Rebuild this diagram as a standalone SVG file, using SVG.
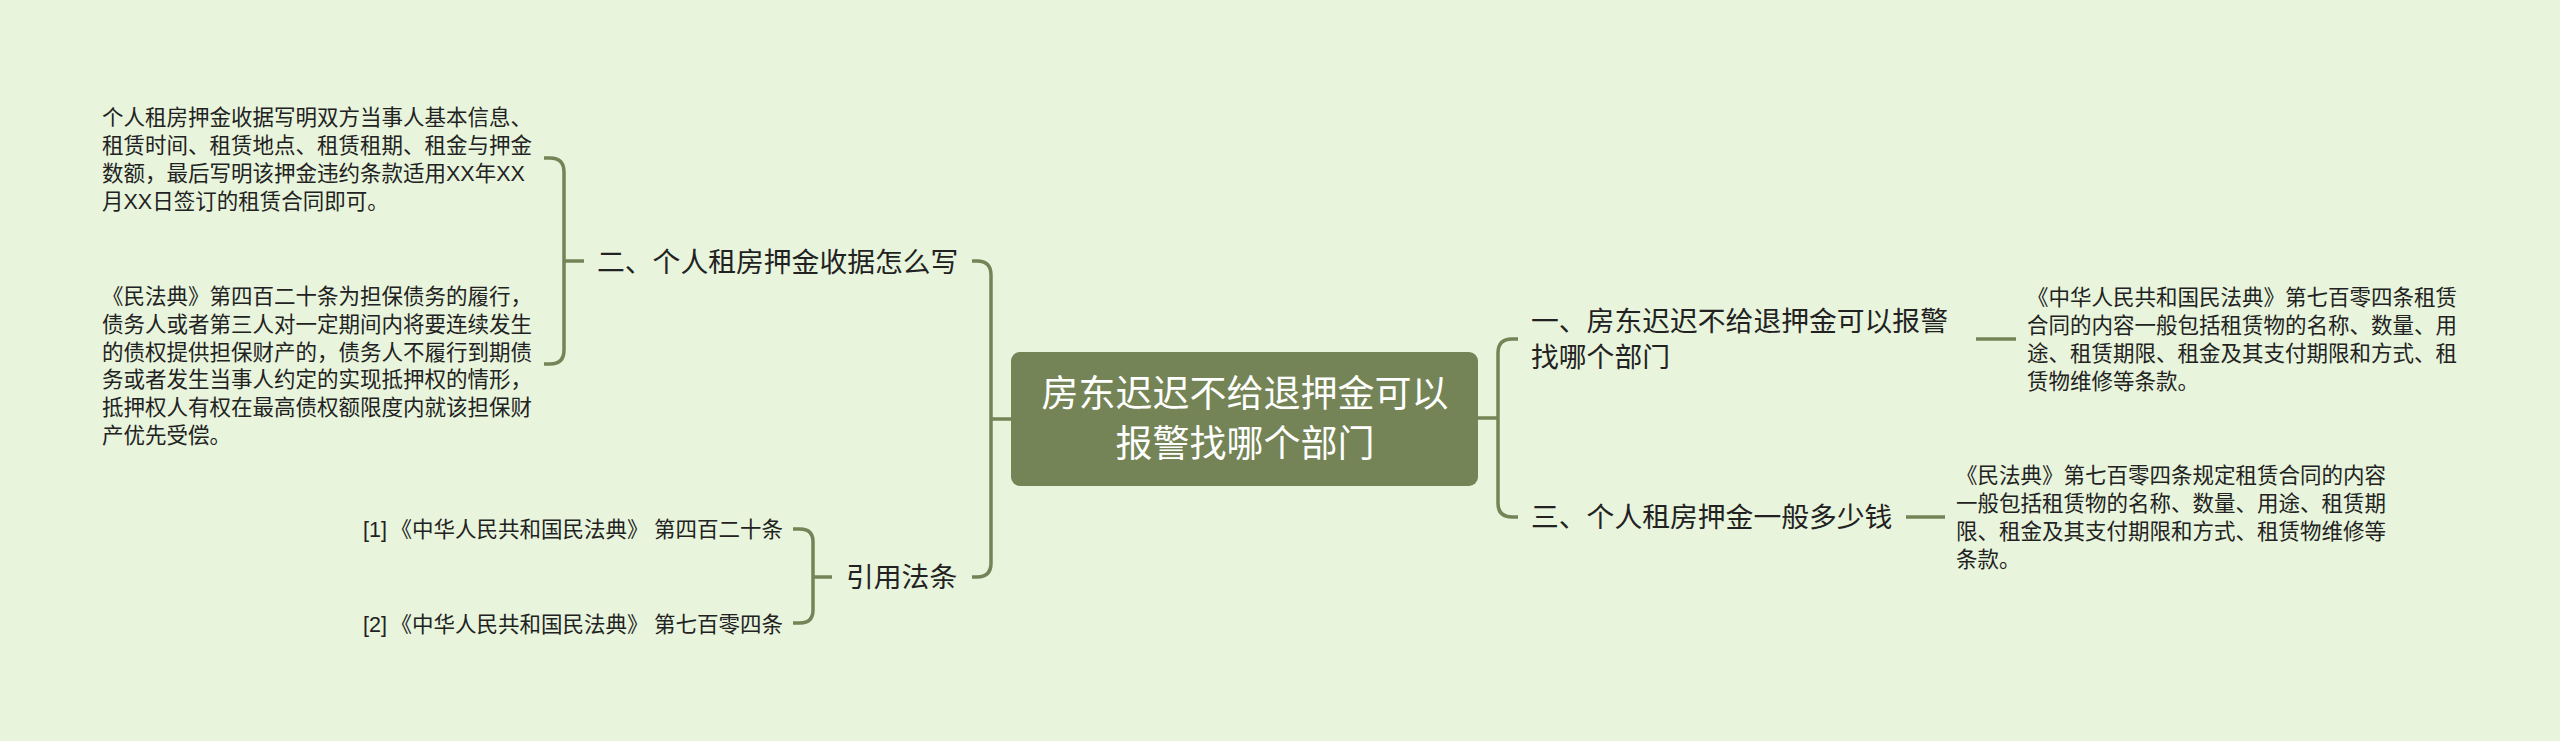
<svg xmlns="http://www.w3.org/2000/svg" width="2560" height="741" viewBox="0 0 2560 741">
<style>
text{font-family:"Liberation Sans","Noto Sans CJK SC",sans-serif;fill:#222}
.l{font-size:21.5px}.b{font-size:27.8px}
.r{font-size:37px;fill:#fff;text-anchor:middle}
#connectors path{fill:none;stroke:#748456;stroke-width:3.5}
</style>
<rect width="2560" height="741" fill="#e8f4dc"/>
<g id="connectors">
<path d="M1012 419H991M972 261H977Q991 261 991 275V563Q991 577 977 577H972"/>
<path d="M1478 418H1498M1518 339H1512Q1498 339 1498 353V503Q1498 517 1512 517H1518"/>
<path d="M584 261H564M544 158H550Q564 158 564 172V350Q564 364 550 364H544"/>
<path d="M832 577H813M793 529H800Q813 529 813 542V610Q813 623 800 623H793"/>
<path d="M1976 339H2016"/>
<path d="M1906 517H1945"/>
</g>
<g id="root"><rect x="1011" y="352" width="467" height="134" rx="9" fill="#748456"/>
<text class="r" x="1245" y="407">房东迟迟不给退押金可以</text><text class="r" x="1245" y="457">报警找哪个部门</text></g>
<g id="n1"><text class="b" x="1531" y="331">一、房东迟迟不给退押金可以报警</text><text class="b" x="1531" y="367">找哪个部门</text></g>
<g id="n2"><text class="b" x="597" y="272">二、个人租房押金收据怎么写</text></g>
<g id="n3"><text class="b" x="1531" y="527">三、个人租房押金一般多少钱</text></g>
<g id="n4"><text class="b" x="846" y="587">引用法条</text></g>
<g id="leaf1"><text class="l" x="2027" y="305">《中华人民共和国民法典》第七百零四条租赁</text><text class="l" x="2027" y="333">合同的内容一般包括租赁物的名称、数量、用</text><text class="l" x="2027" y="361">途、租赁期限、租金及其支付期限和方式、租</text><text class="l" x="2027" y="389">赁物维修等条款。</text></g>
<g id="leaf2"><text class="l" x="1956" y="483">《民法典》第七百零四条规定租赁合同的内容</text><text class="l" x="1956" y="511">一般包括租赁物的名称、数量、用途、租赁期</text><text class="l" x="1956" y="539">限、租金及其支付期限和方式、租赁物维修等</text><text class="l" x="1956" y="567">条款。</text></g>
<g id="leaf3"><text class="l" x="102" y="125">个人租房押金收据写明双方当事人基本信息、</text><text class="l" x="102" y="153">租赁时间、租赁地点、租赁租期、租金与押金</text><text class="l" x="102" y="181">数额，最后写明该押金违约条款适用XX年XX</text><text class="l" x="102" y="209">月XX日签订的租赁合同即可。</text></g>
<g id="leaf4"><text class="l" x="102" y="304">《民法典》第四百二十条为担保债务的履行，</text><text class="l" x="102" y="332">债务人或者第三人对一定期间内将要连续发生</text><text class="l" x="102" y="360">的债权提供担保财产的，债务人不履行到期债</text><text class="l" x="102" y="387">务或者发生当事人约定的实现抵押权的情形，</text><text class="l" x="102" y="415">抵押权人有权在最高债权额限度内就该担保财</text><text class="l" x="102" y="443">产优先受偿。</text></g>
<g id="leaf5"><text class="l" x="363" y="537">[1]<tspan dx="3.5">《中华人民共和国民法典》</tspan> <tspan x="654">第四百二十条</tspan></text></g>
<g id="leaf6"><text class="l" x="363" y="632">[2]<tspan dx="3.5">《中华人民共和国民法典》</tspan> <tspan x="654">第七百零四条</tspan></text></g>
</svg>
